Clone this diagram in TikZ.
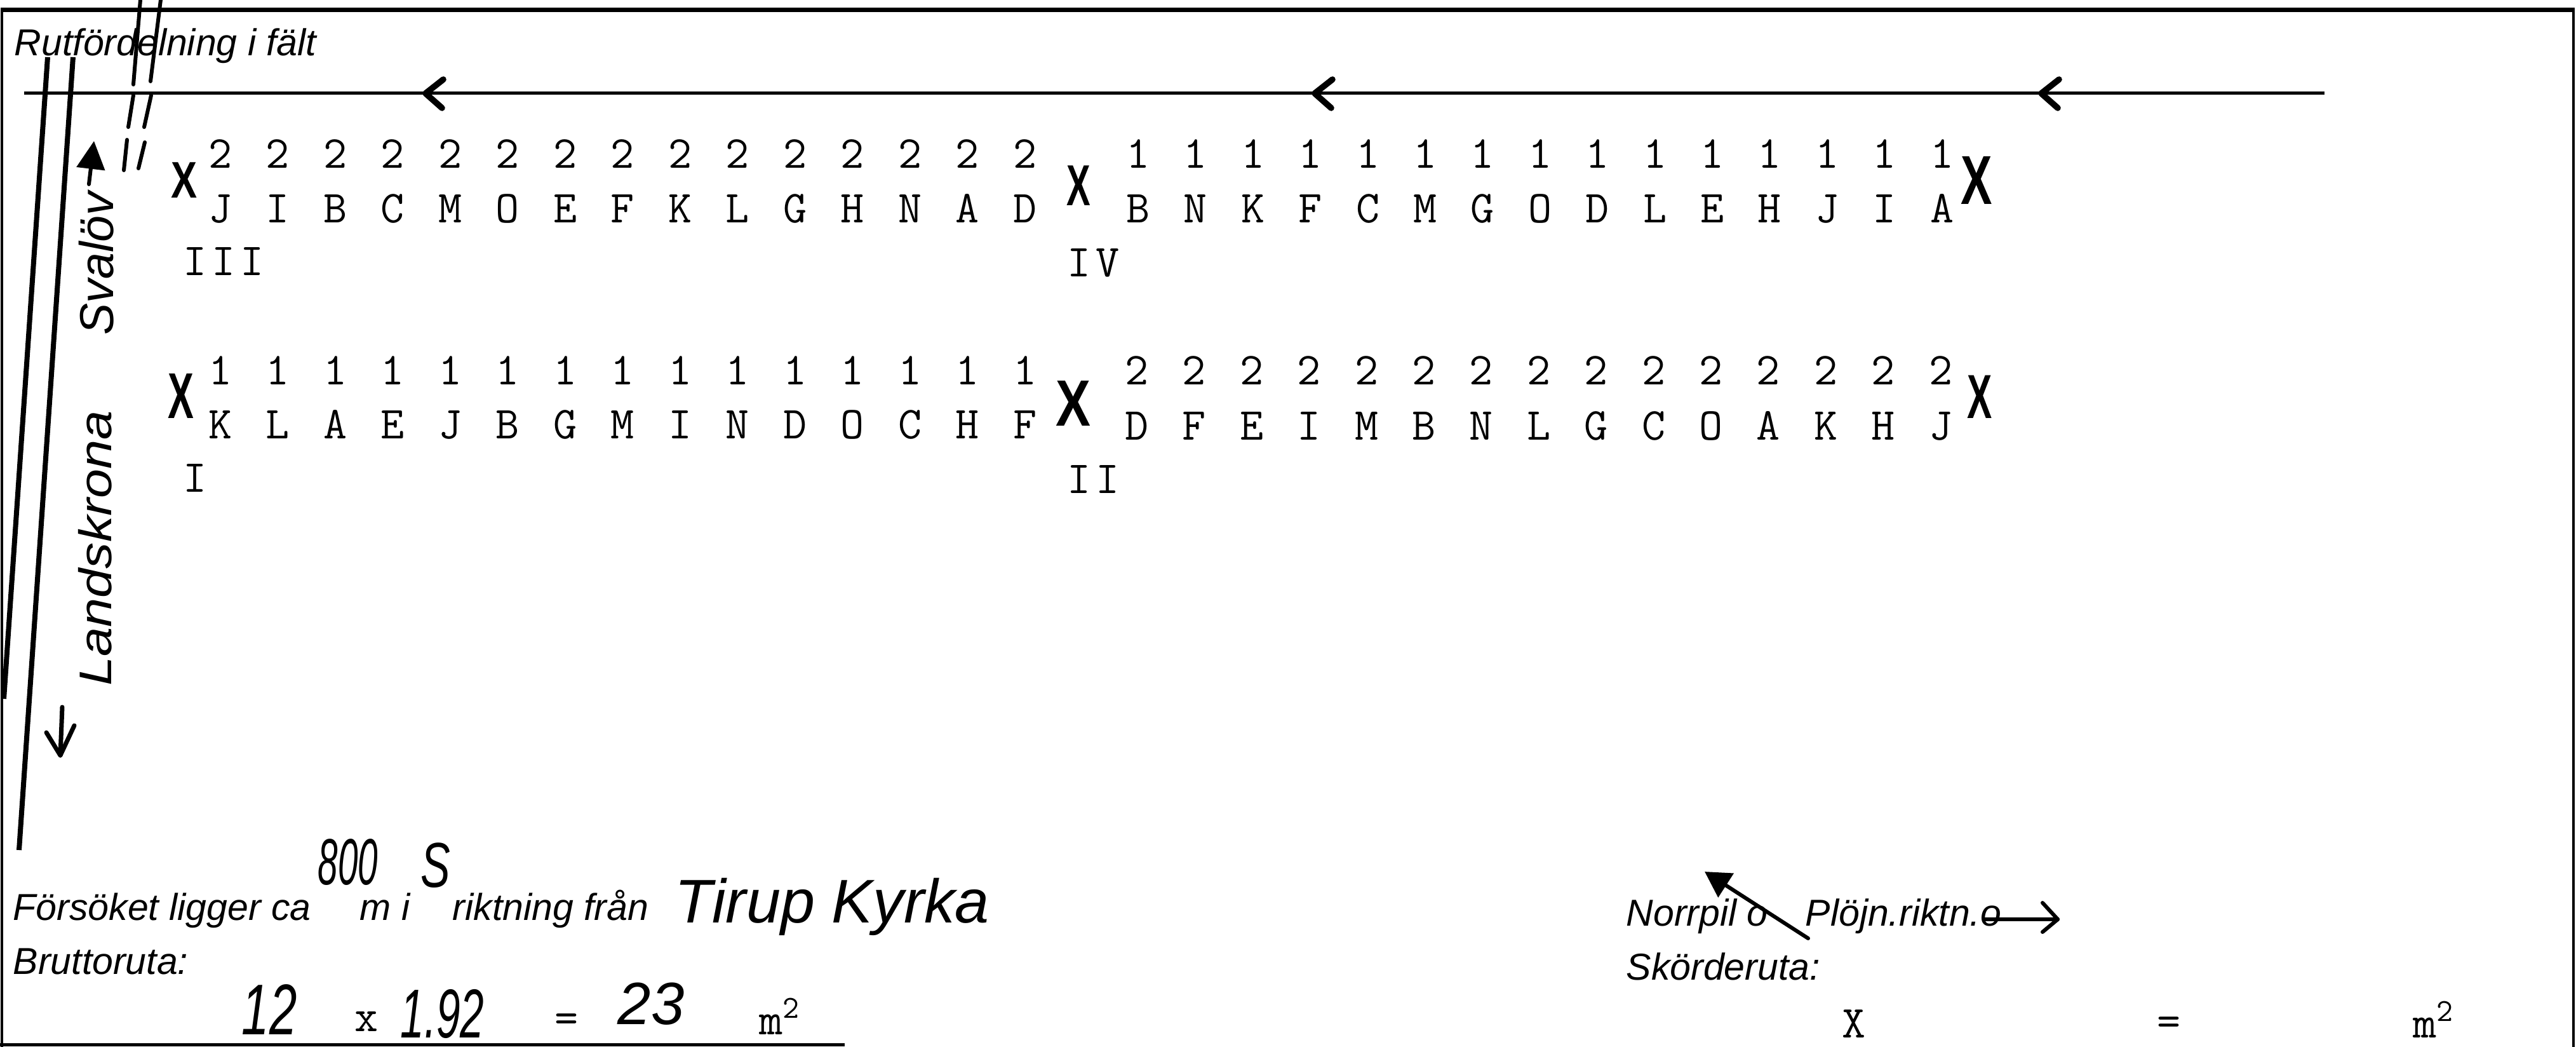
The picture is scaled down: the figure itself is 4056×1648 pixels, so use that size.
\documentclass[tikz,border=0pt]{standalone}
\usepackage{fontspec}
\usepackage{graphicx}
\usetikzlibrary{arrows.meta}
\newfontfamily\formfont{Liberation Sans}
\tikzset{
  formtxt/.style={inner sep=0, anchor=base west, font=\formfont\itshape\fontsize{14.75}{16}\selectfont},
  ttchar/.style={inner sep=0, anchor=base, font=\ttfamily\fontsize{18}{20}\selectfont},
  handtxt/.style={inner sep=0, anchor=base west, font=\formfont\itshape},
  xmark/.style={inner sep=0, anchor=center, font=\formfont\bfseries},
  arrowline/.style={line width=1.25pt},
  chev/.style={line width=2.4pt, line cap=round, line join=round},
  diagline/.style={line width=2pt},
  slashmark/.style={line width=1.5pt, line cap=round},
  handarrow/.style={line width=1.5pt, line cap=round, line join=round},
}
\begin{document}
\begin{tikzpicture}[x=0.25pt, y=-0.25pt]
\useasboundingbox (0,0) rectangle (4056,1648);
% frame
\draw[line width=1.75pt] (3,16) -- (4053,16);
\draw[line width=1pt] (3,12) -- (3,1648);
\draw[line width=1pt] (4052,12) -- (4052,1648);
\draw[line width=1.25pt] (0,1644) -- (1330,1644);
% title
\node[formtxt] (title) at (22,88) {Rutfördelning i fält};
% long arrow line with chevrons
\coordinate (aL) at (38,147);
\coordinate (aR) at (3660,147);
\draw[arrowline] (aR) -- (aL);
\foreach \t in {670,2070,3214} {
  \draw[chev] ({\t+28},125) -- (\t,147) -- ({\t+26},170);
}
% diagonal road lines
\draw[diagline] (75,90) -- (6,1100);
\draw[diagline] (115,90) -- (30,1338);
% double slash marks
\draw[slashmark] (221,0) -- (210,133);
\draw[slashmark] (253,0) -- (237,128);
\draw[slashmark] (210,150) -- (202,200);
\draw[slashmark] (238,150) -- (227,200);
\draw[slashmark] (200,220) -- (195,268);
\draw[slashmark] (228,224) -- (218,265);
% rotated handwritten labels with arrows
\coordinate (upA) at (140,290);
\coordinate (upB) at (148,222);
\draw[handarrow, -{Triangle[length=11pt,width=11pt]}] (upA) -- (upB);
\node[handtxt, rotate=90] (svalov) at (178,528) {\fontsize{18.75}{20}\selectfont Svalöv};
\node[handtxt, rotate=90] (landskrona) at (175,1080) {\fontsize{18}{20}\selectfont\scalebox{1.15}[1]{Landskrona}};
\coordinate (dnA) at (98,1113);
\coordinate (dnB) at (95,1189);
\draw[handarrow, line width=1.75pt] (dnA) -- (dnB);
\draw[handarrow, line width=1.75pt] (73,1153) -- (dnB) -- (117,1142);
% block III (row 1 left)
\foreach \c [count=\i from 0] in {J,I,B,C,M,O,E,F,K,L,G,H,N,A,D} {
  \node[ttchar] (dIII\i) at ({347+90.5*\i},265) {2};
  \node[ttchar] (lIII\i) at ({347+90.5*\i},350) {\c};
}
% block IV (row 1 right)
\foreach \c [count=\i from 0] in {B,N,K,F,C,M,G,O,D,L,E,H,J,I,A} {
  \node[ttchar] (dIV\i) at ({1792+90.4*\i},265) {1};
  \node[ttchar] (lIV\i) at ({1792+90.4*\i},350) {\c};
}
% block I (row 2 left)
\foreach \c [count=\i from 0] in {K,L,A,E,J,B,G,M,I,N,D,O,C,H,F} {
  \node[ttchar] (dI\i) at ({347+90.5*\i},605) {1};
  \node[ttchar] (lI\i) at ({347+90.5*\i},690) {\c};
}
% block II (row 2 right)
\foreach \c [count=\i from 0] in {D,F,E,I,M,B,N,L,G,C,O,A,K,H,J} {
  \node[ttchar] (dII\i) at ({1790+90.4*\i},605) {2};
  \node[ttchar] (lII\i) at ({1790+90.4*\i},692) {\c};
}
% roman numerals
\node[ttchar, anchor=base west] (rIII) at (288,433) {I\kern1.9pt I\kern1.9pt I};
\node[ttchar, anchor=base west] (rIV) at (1680,435) {I\kern1.9pt V};
\node[ttchar, anchor=base west] (rI) at (288,774) {I};
\node[ttchar, anchor=base west] (rII) at (1680,776) {I\kern1.9pt I};
% X marks
\node[xmark] (x1) at (290,284) {\fontsize{20.25}{21}\selectfont\scalebox{0.76}[1]{X}};
\node[xmark] (x2) at (1698,292) {\fontsize{22.75}{23}\selectfont\scalebox{0.62}[1]{X}};
\node[xmark] (x3) at (3112,284) {\fontsize{27.25}{28}\selectfont\scalebox{0.68}[1]{X}};
\node[xmark] (x4) at (285,623) {\fontsize{25.5}{26}\selectfont\scalebox{0.6}[1]{X}};
\node[xmark] (x5) at (1690,635) {\fontsize{25.75}{26}\selectfont\scalebox{0.8}[1]{X}};
\node[xmark] (x6) at (3117,625) {\fontsize{24.5}{25}\selectfont\scalebox{0.6}[1]{X}};
% bottom left form text
\node[formtxt] (fors) at (20,1448) {Försöket ligger ca};
\node[formtxt] (mi) at (566,1448) {m i};
\node[formtxt] (rikt) at (712,1448) {riktning från};
\node[handtxt] (h800) at (500,1392) {\fontsize{25.75}{26}\selectfont\scalebox{0.55}[1]{800}};
\node[handtxt] (hS) at (662,1396) {\fontsize{25}{26}\selectfont\scalebox{0.7}[1]{S}};
\node[formtxt] (brutto) at (20,1533) {Bruttoruta:};
\node[handtxt] (htirup) at (1062,1452) {\fontsize{24.25}{26}\selectfont Tirup Kyrka};
\node[handtxt] (h12) at (380,1628) {\fontsize{28.25}{30}\selectfont\scalebox{0.69}[1]{12}};
\node[ttchar] (bx) at (577,1623) {x};
\node[handtxt] (h192) at (630,1633) {\fontsize{27.25}{30}\selectfont\scalebox{0.62}[1]{1.92}};
\node[ttchar] (beq) at (892,1625) {=};
\node[handtxt] (h23) at (972,1612) {\fontsize{23.5}{26}\selectfont 23};
\node[ttchar] (bm) at (1228,1628) {m\textsuperscript{2}};
% bottom right form text
\node[formtxt] (norr) at (2560,1457) {Norrpil o};
\node[formtxt] (plojn) at (2842,1457) {Plöjn.riktn.o};
\node[formtxt] (skord) at (2560,1542) {Skörderuta:};
\coordinate (nA) at (2847,1477);
\coordinate (nB) at (2684,1372);
\draw[handarrow, -{Triangle[length=10pt,width=11pt]}] (nA) -- (nB);
\coordinate (pA) at (3125,1447);
\coordinate (pB) at (3240,1447);
\draw[handarrow] (pA) -- (pB);
\draw[handarrow] (3216,1421) -- (pB) -- (3216,1467);
\node[ttchar] (sx) at (2919,1633) {X};
\node[ttchar] (seq) at (3415,1630) {=};
\node[ttchar] (sm) at (3832,1633) {m\textsuperscript{2}};
\end{tikzpicture}
\end{document}
